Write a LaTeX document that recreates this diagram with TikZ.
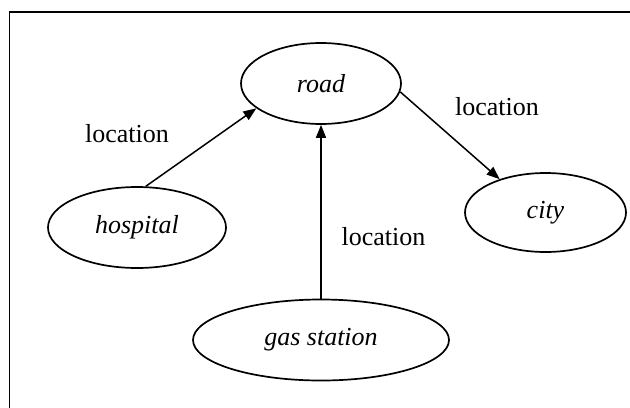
\documentclass[tikz,border=0pt]{standalone}
\usepackage{fontspec}
\setmainfont{Liberation Serif}
\usetikzlibrary{arrows.meta,shapes.geometric}
\tikzset{
  concept/.style={draw=black, ellipse, line width=0.85pt, inner sep=0pt, font=\fontsize{13}{15}\selectfont\itshape},
  arrow/.style={-{Triangle[length=6.5pt,width=5pt]}, line width=0.75pt},
  rel/.style={inner sep=0pt, font=\fontsize{13}{15}\selectfont}
}

\begin{document}
\begin{tikzpicture}[x=0.5pt, y=-0.5pt]
\useasboundingbox (0,0) rectangle (630,407);
% frame
\draw[line width=0.9pt] (9.5,420) -- (9.5,12) -- (640,12);
\node[concept, minimum width=80pt, minimum height=40.5pt] (road) at (321,83.5) {road};
\node[concept, minimum width=89pt, minimum height=40.5pt] (hospital) at (137,227.5) {hospital};
\node[concept, minimum width=80.5pt, minimum height=39.5pt] (city) at (545.5,212.5) {city};
\node[concept, minimum width=128pt, minimum height=40.5pt] (gas) at (321,340) {gas station};
\draw[arrow] (hospital.78) -- (road.201);
\draw[arrow] (road.354) -- (city.144);
\draw[arrow] (gas.north) -- (road.south);
\node[rel] (l1) at (127,134) {location};
\node[rel] (l2) at (497,107) {location};
\node[rel] (l3) at (383.5,237) {location};
\end{tikzpicture}
\end{document}
